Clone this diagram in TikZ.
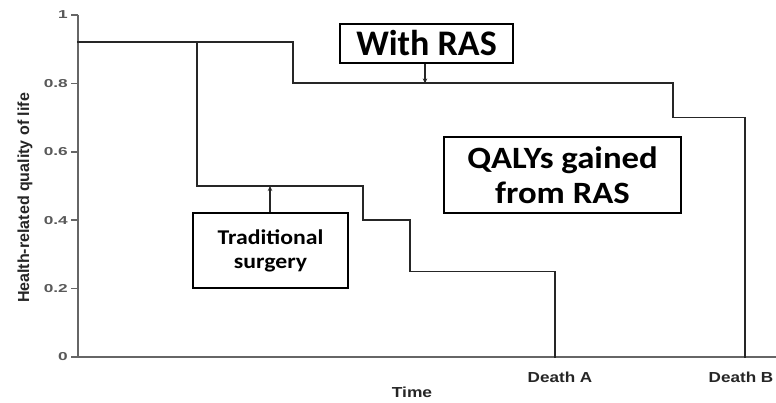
\documentclass[tikz,border=0pt]{standalone}
\usepackage{fontspec}
\setmainfont{Liberation Sans}
\newfontfamily\boxfont{Carlito}
\usetikzlibrary{arrows.meta}
\newcommand{\wide}[2]{\scalebox{#1}[1]{#2}}
\tikzset{
  axisline/.style={draw=black!60, line width=1.6pt},
  curve/.style={draw=black!85, line width=1.8pt, line cap=rect},
  ticklab/.style={text=black!65, font=\fontsize{11.5}{11.5}\selectfont\bfseries, anchor=east, inner sep=0pt},
  axlab/.style={text=black!85, font=\fontsize{14.5}{14.5}\selectfont\bfseries, inner sep=0pt},
  callout/.style={draw=black, line width=1.6pt, fill=white, align=center, inner sep=0pt, font=\boxfont\bfseries},
  pointer/.style={draw=black!85, line width=1.4pt, -{Stealth[length=5pt,width=4.5pt]}},
}
\begin{document}
\begin{tikzpicture}[x=1pt,y=-1pt]
\useasboundingbox[fill=white] (0,0) rectangle (776,403);
% axes
\draw[axisline] (78,15) -- (78,357) -- (776,357);
\foreach \v/\lab in {0/0,0.2/0.2,0.4/0.4,0.6/0.6,0.8/0.8,1/1}{
  \pgfmathsetmacro{\yy}{357-342*\v}
  \draw[axisline] (71,\yy) -- (78,\yy);
  \node[ticklab] at (68,\yy) {\wide{1.5}{\lab}};
}
\node[axlab, rotate=90, font=\fontsize{16}{16}\selectfont\bfseries] (ylab) at (25,198) {Health-related quality of life};
\node[axlab] (time) at (412,392) {\wide{1.2}{Time}};
\node[axlab] (dA) at (560,377) {\wide{1.18}{Death A}};
\node[axlab] (dB) at (741,377) {\wide{1.18}{Death B}};
% with RAS curve
\draw[curve] (78,42.4) -- (293,42.4) -- (293,83.4) -- (673,83.4) -- (673,117.6) -- (745,117.6) -- (745,357);
% traditional surgery curve
\draw[curve] (197,42.4) -- (197,186) -- (363,186) -- (363,220.2) -- (410,220.2) -- (410,271.5) -- (555,271.5) -- (555,357);
% call-outs
\node[callout, minimum width=173pt, minimum height=39pt, font=\boxfont\bfseries\fontsize{36}{36}\selectfont] (wr) at (426.5,43.5) {With RAS};
\node[callout, minimum width=237pt, minimum height=76pt, font=\boxfont\bfseries\fontsize{31}{35}\selectfont] (qg) at (562.5,175) {\wide{1.12}{QALYs gained}\\\wide{1.12}{from RAS}};
\node[callout, minimum width=155pt, minimum height=75pt, font=\boxfont\bfseries\fontsize{21}{24}\selectfont] (ts) at (270.5,250.5) {\wide{1.13}{Traditional}\\\wide{1.13}{surgery}};
\coordinate (wrp) at (425,83.4);
\coordinate (tsp) at (270,186);
\draw[pointer] (wr.south -| wrp) -- (wrp);
\draw[pointer] (ts.north -| tsp) -- (tsp);
\end{tikzpicture}
\end{document}
